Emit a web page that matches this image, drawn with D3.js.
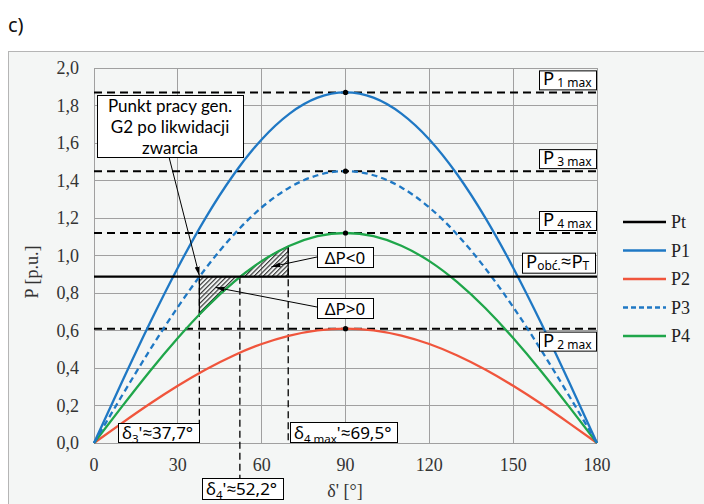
<!DOCTYPE html>
<html><head><meta charset="utf-8">
<script src="https://cdn.jsdelivr.net/npm/d3@7"></script>
<style>
html,body{margin:0;padding:0;background:#fff;}
svg{display:block;}
</style></head><body>
<script>
// Power-angle characteristics P(δ') of generator G2, in p.u.
const deltas = [0,10,20,30,40,50,60,70,80,90,100,110,120,130,140,150,160,170,180];
const P1 = [0,0.325,0.640,0.935,1.202,1.432,1.619,1.757,1.842,1.870,1.842,1.757,1.619,1.432,1.202,0.935,0.640,0.325,0];
const P2 = [0,0.106,0.209,0.305,0.392,0.467,0.528,0.573,0.601,0.610,0.601,0.573,0.528,0.467,0.392,0.305,0.209,0.106,0];
const P3 = [0,0.252,0.496,0.725,0.932,1.111,1.256,1.363,1.428,1.450,1.428,1.363,1.256,1.111,0.932,0.725,0.496,0.252,0];
const P4 = [0,0.194,0.383,0.560,0.720,0.858,0.970,1.052,1.103,1.120,1.103,1.052,0.970,0.858,0.720,0.560,0.383,0.194,0];
const Pt = 0.887;

const seriesNames = ["Pt","P1","P2","P3","P4"];
const seriesColors = ["#000000","#1f78c4","#f0553c","#1f78c4","#1fa64a"];

// Maximum power levels of the characteristics
const maxIndex = ["1 max","3 max","4 max","2 max"];
const maxValues = [1.87,1.45,1.12,0.61];

// Characteristic angles
const delta3 = 37.7, delta4 = 52.2, delta4max = 69.5;
// P4 along the acceleration (ΔP>0) and deceleration (ΔP<0) areas
const posDeltas = [37.7,40,45,50,52.2];
const posP4 = [0.685,0.720,0.792,0.858,0.887];
const negDeltas = [52.2,55,60,65,69.5];
const negP4 = [0.887,0.917,0.970,1.015,1.049];

const xTicks = [0,30,60,90,120,150,180];
const yTicks = [0,0.2,0.4,0.6,0.8,1.0,1.2,1.4,1.6,1.8,2.0];

const W = 704, H = 504;
const x = d3.scaleLinear([0,180],[94,597]);
const y = d3.scaleLinear([0,2],[443,68]);

const svg = d3.select("body").append("svg").attr("width",W).attr("height",H);
const defs = svg.append("defs");
const hatch = defs.append("pattern").attr("id","hatch").attr("width",3.2).attr("height",3.2)
  .attr("patternUnits","userSpaceOnUse").attr("patternTransform","rotate(45)");
hatch.append("line").attr("x1",0.6).attr("y1",0).attr("x2",0.6).attr("y2",3.2)
  .attr("stroke","#2a2a2a").attr("stroke-width",1.1);
defs.append("marker").attr("id","arrow").attr("markerUnits","userSpaceOnUse")
  .attr("markerWidth",9).attr("markerHeight",6).attr("refX",9).attr("refY",3).attr("orient","auto")
  .append("path").attr("d","M0,0.5 L9,3 L0,5.5 Z").attr("fill","#000");

const sans = "'Noto Sans','Open Sans',sans-serif";
const serif = "'Liberation Serif','DejaVu Serif',serif";

// panel label and chart frame
svg.append("text").attr("x",8).attr("y",32).attr("font-family",sans).attr("font-size",20)
  .attr("fill","#111").text("c)");
svg.append("rect").attr("x",8.5).attr("y",51.5).attr("width",W).attr("height",H)
  .attr("fill","#f4f6f5").attr("stroke","#b5b5b5");

// grid
const grid = svg.append("g").attr("stroke","#a0a0a0").attr("stroke-width",1).attr("shape-rendering","crispEdges");
grid.selectAll(".gy").data(yTicks).join("line")
  .attr("x1",x(0)).attr("x2",x(180)).attr("y1",d=>y(d)).attr("y2",d=>y(d));
grid.selectAll(".gx").data(xTicks).join("line")
  .attr("y1",y(0)).attr("y2",y(2)).attr("x1",d=>x(d)).attr("x2",d=>x(d));

// tick labels
const fmt = d => d3.format(".1f")(d).replace(".",",");
svg.append("g").selectAll("text").data(yTicks).join("text")
  .attr("x",79).attr("y",d=>y(d)).attr("dy","0.35em").attr("text-anchor","end")
  .attr("font-family",serif).attr("font-size",18).attr("fill","#333").text(fmt);
svg.append("g").selectAll("text").data(xTicks).join("text")
  .attr("x",d=>x(d)).attr("y",471).attr("text-anchor","middle")
  .attr("font-family",serif).attr("font-size",18).attr("fill","#333").text(d=>d);

// axis titles
svg.append("text").attr("transform","translate(38,272) rotate(-90)").attr("text-anchor","middle")
  .attr("font-family",serif).attr("font-size",18).attr("fill","#333").text("P [p.u.]");
svg.append("text").attr("x",345).attr("y",497).attr("text-anchor","middle")
  .attr("font-family",serif).attr("font-size",18).attr("fill","#333").text("δ' [°]");

// vertical dashed guides at δ3', δ4', δ4max'
const guides = svg.append("g").attr("stroke","#000").attr("stroke-width",1.3).attr("stroke-dasharray","7,4");
guides.append("line").attr("x1",x(delta3)).attr("x2",x(delta3)).attr("y1",y(Pt)).attr("y2",y(0));
guides.append("line").attr("x1",x(delta4)).attr("x2",x(delta4)).attr("y1",y(Pt)).attr("y2",478);
guides.append("line").attr("x1",x(delta4max)).attr("x2",x(delta4max)).attr("y1",y(negP4[negP4.length-1])).attr("y2",y(0));

// hatched areas between P4 and Pt
const area = d3.area().x(d=>x(d[0])).y0(y(Pt)).y1(d=>y(d[1]));
svg.append("path").datum(d3.zip(posDeltas,posP4)).attr("d",area)
  .attr("fill","url(#hatch)").attr("stroke","#000").attr("stroke-width",1.2);
svg.append("path").datum(d3.zip(negDeltas,negP4)).attr("d",area)
  .attr("fill","url(#hatch)").attr("stroke","#000").attr("stroke-width",1.2);

// maximum-power dashed levels
svg.append("g").selectAll("line").data(maxValues).join("line")
  .attr("x1",x(0)).attr("x2",x(180)+1).attr("y1",d=>y(d)).attr("y2",d=>y(d))
  .attr("stroke","#000").attr("stroke-width",2).attr("stroke-dasharray","8,5");

// curves
const line = d3.line().x((d,i)=>x(deltas[i])).y(d=>y(d)).curve(d3.curveNatural);
const curves = [P2,P4,P3,P1];
const curveIdx = [2,4,3,1];
curves.forEach((vals,k)=>{
  const i = curveIdx[k];
  svg.append("path").datum(vals).attr("d",line).attr("fill","none")
    .attr("stroke",seriesColors[i]).attr("stroke-width",2.3)
    .attr("stroke-dasharray", i===3 ? "6,4" : null);
});
// turbine power Pt
svg.append("line").attr("x1",x(0)).attr("x2",x(180)).attr("y1",y(Pt)).attr("y2",y(Pt))
  .attr("stroke","#000").attr("stroke-width",2.2);

// peak markers
svg.append("g").selectAll("circle").data(maxValues).join("circle")
  .attr("cx",x(90)).attr("cy",d=>y(d)).attr("r",2.6).attr("fill","#000");

// legend
const leg = svg.append("g");
seriesNames.forEach((n,i)=>{
  const yy = 222 + i*28.5;
  leg.append("line").attr("x1",623).attr("x2",666).attr("y1",yy).attr("y2",yy)
    .attr("stroke",seriesColors[i]).attr("stroke-width",2.4)
    .attr("stroke-dasharray", n==="P3" ? "5,3" : null);
  leg.append("text").attr("x",671).attr("y",yy).attr("dy","0.35em")
    .attr("font-family",serif).attr("font-size",18).attr("fill","#222").text(n);
});

// boxed annotations
function box(x0,y0,x1,y1){
  svg.append("rect").attr("x",x0+0.5).attr("y",y0+0.5).attr("width",x1-x0).attr("height",y1-y0)
    .attr("fill","#fff").attr("stroke","#000").attr("stroke-width",1);
}
function label(xx,yy,parts,anchor,size,subSize,subDy){
  const t = svg.append("text").attr("x",xx).attr("y",yy).attr("font-family",sans)
    .attr("font-size",size||17).attr("fill","#000").attr("text-anchor",anchor||"start");
  let shift = 0;
  parts.forEach(p=>{
    const sub = Array.isArray(p);
    const s = t.append("tspan").text(sub ? p[0] : p);
    const target = sub ? (subDy||4) : 0;
    if (target !== shift) { s.attr("dy", target - shift); shift = target; }
    if (sub) s.attr("font-size",subSize||11.5);
  });
  return t;
}

// P max labels at the right edge
maxValues.forEach((v,i)=>{
  const below = maxIndex[i] === "2 max";
  const y0 = below ? y(v)+3 : y(v)-22;
  box(539,y0,596,y0+19);
  label(543,y0+15,["P",[" "+maxIndex[i]]],"start",18.5,12,2);
});
box(522,y(Pt)-24,595,y(Pt)-4);
label(526,y(Pt)-9,["P",["obć."],"≈P",["T"]],"start",18.5,12,2.5);

// operating point note
box(97,95,243,157);
[["Punkt pracy gen.",112],["G2 po likwidacji",133],["zwarcia",154]].forEach(d=>{
  svg.append("text").attr("x",170).attr("y",d[1]).attr("text-anchor","middle")
    .attr("font-family","Lato,'Noto Sans',sans-serif").attr("font-size",17).attr("fill","#000").text(d[0]);
});
svg.append("line").attr("x1",169).attr("y1",157).attr("x2",x(delta3)).attr("y2",y(Pt)-1)
  .attr("stroke","#000").attr("stroke-width",1).attr("marker-end","url(#arrow)");

// ΔP area labels
box(317,247,373,267);
label(345,264,["ΔP<0"],"middle");
svg.append("line").attr("x1",317).attr("y1",257).attr("x2",x(63.5)).attr("y2",y(0.94))
  .attr("stroke","#000").attr("stroke-width",1).attr("marker-end","url(#arrow)");
box(317,298,373,318);
label(345,315,["ΔP>0"],"middle");
svg.append("line").attr("x1",317).attr("y1",307).attr("x2",x(43.5)).attr("y2",y(0.83))
  .attr("stroke","#000").attr("stroke-width",1).attr("marker-end","url(#arrow)");

// angle labels
box(118,423,199,442);
label(122,439,["δ",["3"],"'≈37,7°"]);
box(290,422,397,442);
label(294,439,["δ",["4 max"],"'≈69,5°"]);
box(202,478,283,499);
label(206,495,["δ",["4"],"'≈52,2°"]);
</script>
</body></html>
